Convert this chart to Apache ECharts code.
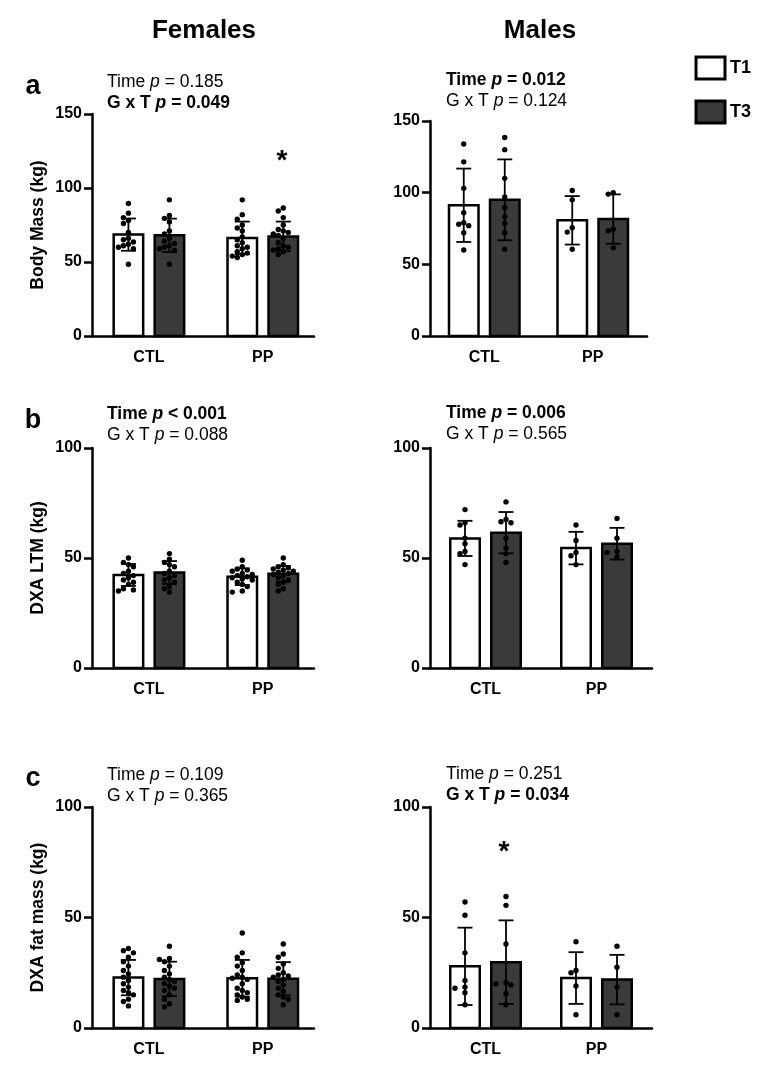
<!DOCTYPE html>
<html>
<head>
<meta charset="utf-8">
<script src="https://cdn.jsdelivr.net/npm/echarts@6/dist/echarts.min.js"></script>
<style>html,body{margin:0;padding:0;background:#fff;}#c{width:764px;height:1072px;}</style>
</head>
<body>
<div id="c"></div>
<script>
// ---------- DATA (order of each array: CTL-T1, CTL-T3, PP-T1, PP-T3) ----------
const groups = ['CTL', 'PP'];
const timepoints = ['T1', 'T3'];

// a) Body mass (kg)
const femMassMean = [68.5, 68.0, 66.3, 67.3];
const femMassSD   = [10.9, 11.3, 11.0, 10.0];
const femMassDots = [
  [89.5, 83, 80, 78, 76, 70, 66, 65, 63.5, 62, 61, 60, 59, 48.5],
  [92, 81.5, 79.5, 77, 71, 69, 66, 64, 62.5, 61, 60, 59, 58, 48.5],
  [92, 82, 79, 75, 73, 71, 67, 65, 63, 61, 60, 59, 57, 56, 55, 54, 53],
  [86.5, 84.5, 80, 75, 72, 71, 70, 69, 68, 66, 63, 61, 60, 59, 58, 57, 55]
];
const maleMassMean = [91.2, 95.0, 80.7, 81.6];
const maleMassSD   = [25.6, 28.2, 16.9, 17.2];
const maleMassDots = [
  [134, 121.5, 103, 86, 79, 78, 77, 72, 60],
  [138.5, 130, 110, 97, 89.5, 83, 78.5, 72, 60.5],
  [101.5, 95, 75.5, 72.5, 60.5],
  [100, 99, 74.5, 73.5, 61.5]
];

// b) DXA LTM (kg)
const femLtmMean = [42.3, 43.4, 41.5, 42.8];
const femLtmSD   = [5.0, 5.2, 3.8, 3.6];
const femLtmDots = [
  [50, 48, 47, 46, 44, 43, 42, 41, 40, 39, 38, 36, 35.5, 35],
  [52, 49.5, 48, 47, 46, 44, 43, 42, 41, 40, 39, 37, 36, 34.5],
  [49, 46, 45, 44.5, 44, 43, 42.5, 42, 41.5, 41, 40.5, 40, 39, 38, 37, 35, 34.5],
  [50, 47, 46, 45.5, 45, 44.5, 44, 43.5, 43, 42.5, 42, 41, 40, 39, 38, 36, 35]
];
const maleLtmMean = [58.9, 61.5, 54.5, 56.5];
const maleLtmSD   = [8.0, 9.4, 7.4, 7.2];
const maleLtmDots = [
  [72, 66, 65, 59, 56.5, 53, 52, 47],
  [75.5, 67.5, 66.5, 66, 59, 54.5, 52, 48],
  [65, 58, 52.5, 51, 47],
  [68, 59, 53, 52.5, 50.5]
];

// c) DXA fat mass (kg)
const femFatMean = [22.8, 22.2, 22.5, 22.3];
const femFatSD   = [8.0, 7.8, 8.3, 7.5];
const femFatDots = [
  [36, 35, 34, 32, 30, 28, 26, 24.5, 23, 21.5, 20, 18.5, 17, 16, 15, 13, 12, 10],
  [37, 31.5, 31, 30, 28, 26, 24.5, 23, 22, 21, 20, 19, 18, 17, 15, 13, 11, 9.5],
  [43, 34, 32, 29.5, 28, 26, 24, 23, 22.5, 22, 20, 18, 17, 16, 15, 14, 13, 12.5],
  [38, 33.5, 32, 29, 27, 25, 24, 23.5, 23, 22, 21, 19.5, 18, 16.5, 15, 14, 13, 10.5]
];
const maleFatMean = [27.9, 29.8, 22.6, 21.9];
const maleFatSD   = [17.5, 18.9, 11.7, 11.2];
const maleFatDots = [
  [57, 51, 34, 21.5, 18.5, 18, 16, 10.5],
  [59.5, 55.5, 38, 20.5, 20, 19.5, 15.5, 10.5],
  [39, 26, 25, 19, 6],
  [37, 27.5, 18.5, 6]
];

// ---------- LAYOUT / STYLE ----------
const FONT = '"Liberation Sans", Arial, Helvetica, sans-serif';
const HALF = 20.5;        // px from group centre to bar centre
const BAR_W = 29.5;       // inner bar width (stroke adds 2.5)
const DOT_R = 2.7;
const DARK = '#3a3a3a';
const groupX = [1, 1, 3, 3];
const sides  = [-1, 1, -1, 1];

const panels = [
  {grid:{left:92, top:114, width:222, height:222}, xMax:3.9, yMax:150, yName:'Body Mass (kg)',
   mean:femMassMean, sd:femMassSD, dots:femMassDots,
   title:'{n|Time }{ni|p}{n| = 0.185}\n{b|G x T }{bi|p}{b| = 0.049}', tpos:[107, 72]},
  {grid:{left:430, top:121, width:217, height:215}, xMax:4, yMax:150, yName:'',
   mean:maleMassMean, sd:maleMassSD, dots:maleMassDots,
   title:'{b|Time }{bi|p}{b| = 0.012}\n{n|G x T }{ni|p}{n| = 0.124}', tpos:[446, 70]},
  {grid:{left:92, top:448, width:222, height:220}, xMax:3.9, yMax:100, yName:'DXA LTM (kg)',
   mean:femLtmMean, sd:femLtmSD, dots:femLtmDots,
   title:'{b|Time }{bi|p}{b| < 0.001}\n{n|G x T }{ni|p}{n| = 0.088}', tpos:[107, 404]},
  {grid:{left:430, top:448, width:222, height:220}, xMax:4, yMax:100, yName:'',
   mean:maleLtmMean, sd:maleLtmSD, dots:maleLtmDots,
   title:'{b|Time }{bi|p}{b| = 0.006}\n{n|G x T }{ni|p}{n| = 0.565}', tpos:[446, 403]},
  {grid:{left:92, top:807, width:222, height:221}, xMax:3.9, yMax:100, yName:'DXA fat mass (kg)',
   mean:femFatMean, sd:femFatSD, dots:femFatDots,
   title:'{n|Time }{ni|p}{n| = 0.109}\n{n|G x T }{ni|p}{n| = 0.365}', tpos:[107, 765]},
  {grid:{left:430, top:807, width:222, height:221}, xMax:4, yMax:100, yName:'',
   mean:maleFatMean, sd:maleFatSD, dots:maleFatDots,
   title:'{n|Time }{ni|p}{n| = 0.251}\n{b|G x T }{bi|p}{b| = 0.034}', tpos:[446, 764]}
];

// simple deterministic beeswarm: horizontal px offsets so dots do not overlap
function swarm(vals, ppu) {
  const placed = [], out = [];
  const cands = [0, -5, 5, -10, 10, -15, 15];
  const minD = 2 * DOT_R - 0.2;
  vals.forEach(v => {
    const y = v * ppu;
    let chosen = cands[cands.length - 1];
    for (const c of cands) {
      if (placed.every(p => (p.x - c) ** 2 + (p.y - y) ** 2 >= minD * minD)) { chosen = c; break; }
    }
    placed.push({x: chosen, y: y});
    out.push(chosen);
  });
  return out;
}

const richStyles = {
  n:  {fontFamily: FONT, fontSize: 17.5, color: '#000', fontWeight: 'normal', fontStyle: 'normal', lineHeight: 21},
  ni: {fontFamily: FONT, fontSize: 17.5, color: '#000', fontWeight: 'normal', fontStyle: 'italic', lineHeight: 21},
  b:  {fontFamily: FONT, fontSize: 17.5, color: '#000', fontWeight: 'bold', fontStyle: 'normal', lineHeight: 21},
  bi: {fontFamily: FONT, fontSize: 17.5, color: '#000', fontWeight: 'bold', fontStyle: 'italic', lineHeight: 21}
};

const grids = [], xAxes = [], yAxes = [], series = [], titles = [];

panels.forEach((p, i) => {
  grids.push(Object.assign({containLabel: false}, p.grid));
  xAxes.push({
    type: 'value', gridIndex: i, min: 0, max: p.xMax, interval: 1,
    axisLine: {show: true, onZero: false, lineStyle: {color: '#000', width: 2.5}},
    axisTick: {show: false}, splitLine: {show: false},
    axisLabel: {
      formatter: v => (v === 1 ? groups[0] : (v === 3 ? groups[1] : '')),
      fontFamily: FONT, fontSize: 16, fontWeight: 'bold', color: '#000', margin: 14,
      showMaxLabel: false
    }
  });
  yAxes.push({
    type: 'value', gridIndex: i, min: 0, max: p.yMax, interval: 50,
    name: p.yName, nameLocation: 'middle', nameGap: 45,
    nameTextStyle: {fontFamily: FONT, fontSize: 17.5, fontWeight: 'bold', color: '#000'},
    axisLine: {show: true, lineStyle: {color: '#000', width: 2.5}},
    axisTick: {show: true, length: 8, lineStyle: {color: '#000', width: 2.5}},
    splitLine: {show: false},
    axisLabel: {fontFamily: FONT, fontSize: 16, fontWeight: 'bold', color: '#000', margin: 10}
  });
  titles.push({
    text: p.title, left: p.tpos[0], top: p.tpos[1], padding: 0,
    textStyle: {rich: richStyles, fontFamily: FONT, fontSize: 17.5, fontWeight: 'normal', lineHeight: 21}
  });

  // bars: T1 and T3 series
  [0, 1].forEach(t => {
    const idxs = [t, t + 2];
    const fill = t === 0 ? '#ffffff' : DARK;
    series.push({
      type: 'custom', name: timepoints[t], xAxisIndex: i, yAxisIndex: i, z: 2,
      itemStyle: {color: fill}, encode: {x: 0, y: 1},
      data: idxs.map(k => [groupX[k], p.mean[k], sides[k]]),
      renderItem: (params, api) => {
        const gx = api.value(0), v = api.value(1), sd = api.value(2);
        const top = api.coord([gx, v]);
        const base = api.coord([gx, 0]);
        const cx = top[0] + sd * HALF;
        return {type: 'rect', shape: {x: cx - BAR_W / 2, y: top[1], width: BAR_W, height: base[1] - top[1]},
                style: {fill: fill, stroke: '#000', lineWidth: 2.5}};
      }
    });
  });

  // error bars (mean ± SD)
  series.push({
    type: 'custom', xAxisIndex: i, yAxisIndex: i, z: 3, encode: {x: 0, y: 1},
    data: [0, 1, 2, 3].map(k => [groupX[k], p.mean[k], p.sd[k], sides[k]]),
    renderItem: (params, api) => {
      const gx = api.value(0), m = api.value(1), s = api.value(2), sd = api.value(3);
      const hi = api.coord([gx, m + s]);
      const lo = api.coord([gx, m - s]);
      const cx = hi[0] + sd * HALF;
      const st = {stroke: '#000', lineWidth: 1.8};
      return {type: 'group', children: [
        {type: 'line', shape: {x1: cx, y1: hi[1], x2: cx, y2: lo[1]}, style: st},
        {type: 'line', shape: {x1: cx - 7.5, y1: hi[1], x2: cx + 7.5, y2: hi[1]}, style: st},
        {type: 'line', shape: {x1: cx - 7.5, y1: lo[1], x2: cx + 7.5, y2: lo[1]}, style: st}
      ]};
    }
  });

  // individual points
  const ppu = p.grid.height / p.yMax;
  const dotData = [];
  p.dots.forEach((vals, k) => {
    const offs = swarm(vals, ppu);
    vals.forEach((v, j) => dotData.push([groupX[k], v, sides[k] * HALF + offs[j]]));
  });
  series.push({
    type: 'custom', xAxisIndex: i, yAxisIndex: i, z: 4, encode: {x: 0, y: 1},
    data: dotData,
    renderItem: (params, api) => {
      const c = api.coord([api.value(0), api.value(1)]);
      return {type: 'circle', shape: {cx: c[0] + api.value(2), cy: c[1], r: DOT_R}, style: {fill: '#000'}};
    }
  });
});

const txt = (x, y, text, size) => ({
  type: 'text', x: x, y: y, silent: true,
  style: {text: text, font: 'bold ' + size + 'px ' + FONT, fill: '#000', align: 'center', verticalAlign: 'middle'}
});

const option = {
  animation: false,
  backgroundColor: '#fff',
  title: titles,
  grid: grids,
  xAxis: xAxes,
  yAxis: yAxes,
  legend: {
    orient: 'vertical', left: 689.5, top: 50.5, itemWidth: 29, itemHeight: 22, itemGap: 19,
    selectedMode: false, icon: 'rect',
    textStyle: {fontFamily: FONT, fontSize: 18, fontWeight: 'bold', color: '#000'},
    data: [
      {name: 'T1', itemStyle: {color: '#ffffff', borderColor: '#000', borderWidth: 3}},
      {name: 'T3', itemStyle: {color: DARK, borderColor: '#000', borderWidth: 3}}
    ]
  },
  graphic: [
    txt(204, 31, 'Females', 26),
    txt(540, 31, 'Males', 26),
    txt(33, 87, 'a', 27),
    txt(33, 421, 'b', 27),
    txt(33, 779, 'c', 27),
    txt(282, 161, '*', 28),
    txt(504, 852, '*', 28)
  ],
  series: series
};

const chart = echarts.init(document.getElementById('c'), null, {renderer: 'canvas'});
chart.setOption(option);
</script>
</body>
</html>
